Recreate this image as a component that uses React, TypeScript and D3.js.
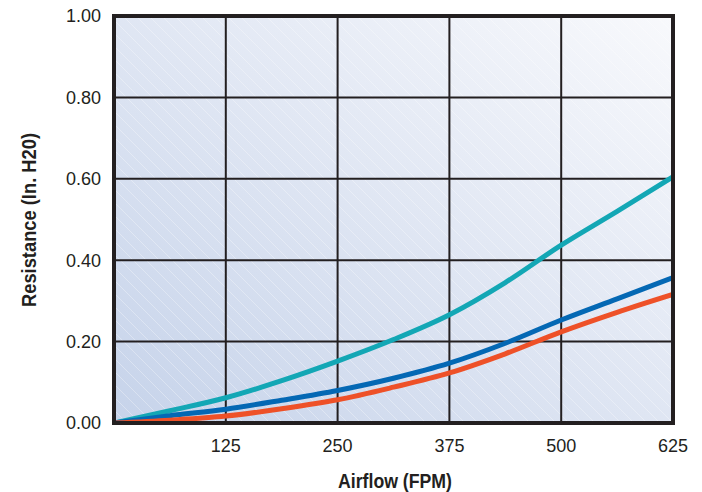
import { useMemo } from 'react';
import * as d3 from 'd3';

const airflow = [0, 62.5, 125, 187.5, 250, 312.5, 375, 437.5, 500, 562.5, 625];
const highResistance = [0, 0.03, 0.062, 0.104, 0.152, 0.205, 0.266, 0.345, 0.437, 0.52, 0.605];
const midResistance = [0, 0.018, 0.034, 0.056, 0.08, 0.11, 0.147, 0.196, 0.253, 0.305, 0.357];
const lowResistance = [0, 0.007, 0.017, 0.035, 0.057, 0.088, 0.123, 0.17, 0.224, 0.272, 0.316];
const xTicks = [125, 250, 375, 500, 625];
const yTicks = [0, 0.2, 0.4, 0.6, 0.8, 1.0];

const series = [
  { name: 'high', values: highResistance, color: '#13a7b5' },
  { name: 'mid', values: midResistance, color: '#0468b4' },
  { name: 'low', values: lowResistance, color: '#ee5128' },
];

const width = 702;
const height = 492;
const marginLeft = 114;
const marginRight = 29;
const marginTop = 16;
const marginBottom = 69;

export default function App() {
  const x = d3.scaleLinear([0, 625], [marginLeft, width - marginRight]);
  const y = d3.scaleLinear([0, 1], [height - marginBottom, marginTop]);
  const line = d3.line<number>((d, i) => x(airflow[i]), (d) => y(d)).curve(d3.curveMonotoneX);

  const pw = x(625) - x(0);
  const ph = y(0) - y(1);

  const stripes = useMemo(() => d3.range(-30, 80).map((i) => i * 13), []);

  return (
    <svg width={width} height={height} style={{ position: 'absolute', left: 0, top: 0 }}>
      <defs>
        <linearGradient id="bg" x1="0" y1="1" x2="1" y2="0">
          <stop offset="0%" stopColor="#c6d3ea" />
          <stop offset="55%" stopColor="#e2e8f4" />
          <stop offset="100%" stopColor="#f8f9fc" />
        </linearGradient>
        <clipPath id="plot">
          <rect x={x(0)} y={y(1)} width={pw} height={ph} />
        </clipPath>
      </defs>
      <rect x={x(0)} y={y(1)} width={pw} height={ph} fill="url(#bg)" />
      <g clipPath="url(#plot)" stroke="#ffffff" strokeOpacity={0.4} strokeWidth={0.8}>
        {stripes.map((s) => (
          <line key={s} x1={x(0) + s - ph} y1={y(1)} x2={x(0) + s} y2={y(0)} />
        ))}
      </g>
      <g stroke="#231f20" strokeWidth={2}>
        {xTicks.slice(0, -1).map((t) => (
          <line key={t} x1={x(t)} x2={x(t)} y1={y(1)} y2={y(0)} />
        ))}
        {yTicks.slice(1, -1).map((t) => (
          <line key={t} x1={x(0)} x2={x(625)} y1={y(t)} y2={y(t)} />
        ))}
      </g>
      <g clipPath="url(#plot)">
        {series.map((s) => (
          <path key={s.name} d={line(s.values) ?? ''} fill="none" stroke={s.color} strokeWidth={5} strokeLinecap="butt" />
        ))}
      </g>
      <rect x={x(0)} y={y(1)} width={pw} height={ph} fill="none" stroke="#231f20" strokeWidth={4} />
      <g fontFamily="'Liberation Sans', Arial, Helvetica, sans-serif" fontSize={18} fill="#231f20">
        {yTicks.map((t) => (
          <text key={t} x={x(0) - 13} y={y(t)} dy="0.36em" textAnchor="end">
            {t.toFixed(2)}
          </text>
        ))}
        {xTicks.map((t) => (
          <text key={t} x={x(t)} y={y(0) + 29} textAnchor="middle">
            {t}
          </text>
        ))}
      </g>
      <g fontFamily="'Liberation Sans', Arial, sans-serif" fontWeight="bold" fontSize={20} fill="#231f20">
        <text x={395} y={488} textAnchor="middle" textLength={114} lengthAdjust="spacingAndGlyphs">
          Airflow (FPM)
        </text>
        <text
          transform={`translate(36,220) rotate(-90)`}
          textAnchor="middle"
          textLength={174}
          lengthAdjust="spacingAndGlyphs"
        >
          Resistance (In. H20)
        </text>
      </g>
    </svg>
  );
}
